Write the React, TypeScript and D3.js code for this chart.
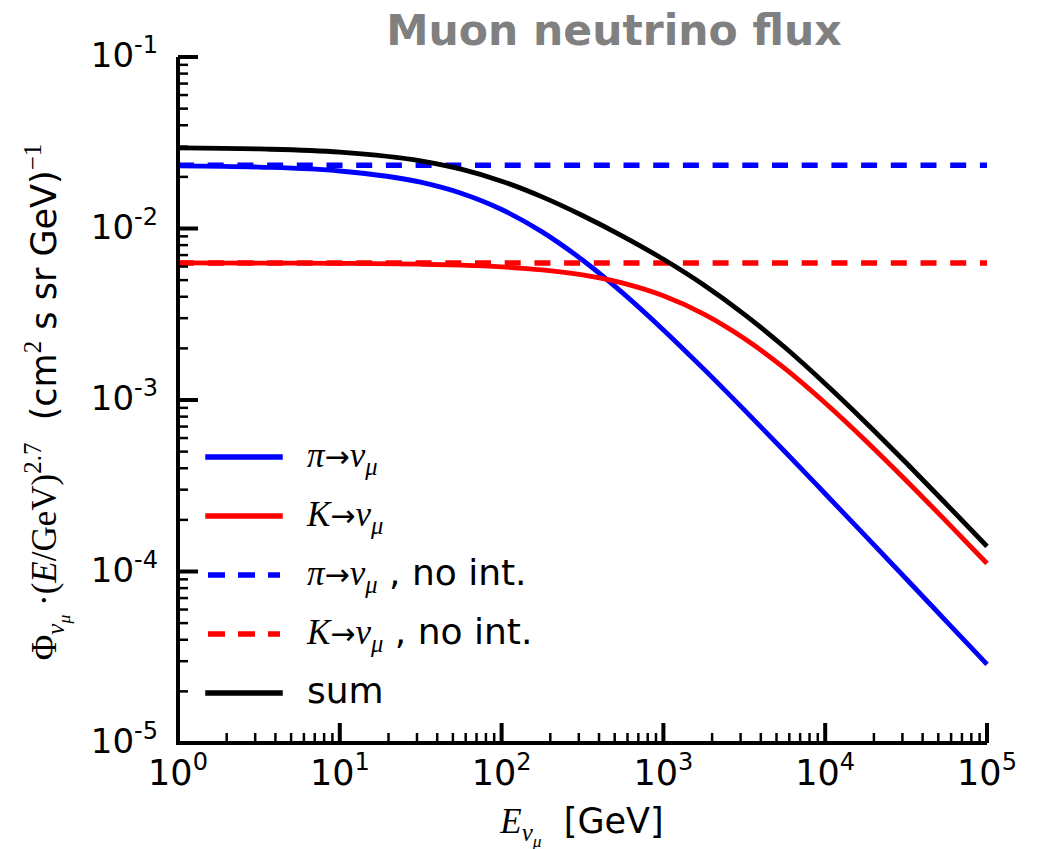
import React from 'react';
import * as d3 from 'd3';

// Neutrino energies (GeV) at which the fluxes are tabulated
const energyGeV = [1, 3.16, 10, 31.6, 56.2, 100, 178, 316, 562, 1000, 1778, 3162, 5623, 10000, 17783, 31623, 56234, 100000];
// E^2.7-weighted muon-neutrino flux, (cm^2 s sr GeV)^-1
const fluxPion = [0.02321, 0.02281, 0.02164, 0.01862, 0.01606, 0.01291, 0.00956, 0.00655, 0.0042, 0.002563, 0.001514, 0.000876, 0.000501, 0.000284, 0.0001607, 0.0000907, 0.00005107, 0.00002875];
const fluxKaon = [0.006297, 0.006289, 0.006265, 0.006191, 0.006109, 0.005968, 0.005733, 0.005359, 0.004801, 0.00405, 0.00317, 0.002285, 0.001528, 0.00096, 0.000579, 0.0003396, 0.0001954, 0.0001114];
const fluxSum = [0.02951, 0.0291, 0.02791, 0.02481, 0.02217, 0.01888, 0.01529, 0.01191, 0.009, 0.006613, 0.004684, 0.003161, 0.002029, 0.001244, 0.00074, 0.0004303, 0.0002465, 0.0001402];
// Without hadronic interactions the weighted flux stays flat
const energyRange = [1, 100000];
const fluxPionNoInt = [0.0234, 0.0234];
const fluxKaonNoInt = [0.0063, 0.0063];

const xTickExponents = [0, 1, 2, 3, 4, 5];
const yTickExponents = [-5, -4, -3, -2, -1];

const SANS = '"DejaVu Sans", sans-serif';
const SERIF = '"Liberation Serif", "DejaVu Serif", serif';
const ARROW = '"DejaVu Sans", sans-serif';

type Seg = { t: string; size: number; shift?: number; font?: string; italic?: boolean };

function Rich({ x, y, anchor, segs, transform, fill = '#000' }: { x: number; y: number; anchor?: string; segs: Seg[]; transform?: string; fill?: string }) {
  let cur = 0;
  return (
    <text x={x} y={y} textAnchor={anchor} transform={transform} fill={fill} style={{ whiteSpace: 'pre' }}>
      {segs.map((s, i) => {
        const sh = s.shift ?? 0;
        const dy = cur - sh;
        cur = sh;
        return (
          <tspan key={i} dy={dy} fontSize={s.size} fontFamily={s.font ?? SANS} fontStyle={s.italic ? 'italic' : 'normal'}>
            {s.t}
          </tspan>
        );
      })}
    </text>
  );
}

const MATH = 35;
const nuMu = (size: number, shift = 0): Seg[] => [
  { t: 'ν', size, font: SERIF, italic: true, shift },
  { t: 'μ', size: size * 0.7, font: SERIF, italic: true, shift: shift - size * 0.22 },
];
const decay = (parent: string): Seg[] => [
  { t: parent, size: MATH, font: SERIF, italic: true },
  { t: '→', size: 30, font: ARROW },
  ...nuMu(MATH),
];

export default function App() {
  const x = d3.scaleLog().domain([1, 1e5]).range([178, 987]);
  const y = d3.scaleLog().domain([1e-5, 1e-1]).range([743, 57]);
  const line = d3
    .line<[number, number]>()
    .x((d) => x(d[0]))
    .y((d) => y(d[1]))
    .curve(d3.curveMonotoneX);

  const series = (v: number[], e = energyGeV) => line(e.map((E, i) => [E, v[i]] as [number, number])) ?? '';

  const curves = [
    { d: series(fluxPion), color: '#0000ff', dash: null },
    { d: series(fluxKaon), color: '#ff0000', dash: null },
    { d: series(fluxPionNoInt, energyRange), color: '#0000ff', dash: '16,13.7' },
    { d: series(fluxKaonNoInt, energyRange), color: '#ff0000', dash: '16,13.7' },
    { d: series(fluxSum), color: '#000000', dash: null },
  ];

  const xMinor: number[] = [];
  xTickExponents.slice(0, -1).forEach((k) => d3.range(2, 10).forEach((j) => xMinor.push(j * 10 ** k)));
  const yMinor: number[] = [];
  yTickExponents.slice(0, -1).forEach((k) => d3.range(2, 10).forEach((j) => yMinor.push(j * 10 ** k)));

  const x0 = x.range()[0];
  const y0 = y.range()[0];

  const legend: { color: string; dash: string | null; segs: Seg[] }[] = [
    { color: '#0000ff', dash: null, segs: decay('π') },
    { color: '#ff0000', dash: null, segs: decay('K') },
    { color: '#0000ff', dash: '17,13', segs: [...decay('π'), { t: ' , no int.', size: 36 }] },
    { color: '#ff0000', dash: '17,13', segs: [...decay('K'), { t: ' , no int.', size: 36 }] },
    { color: '#000000', dash: null, segs: [{ t: 'sum', size: 36 }] },
  ];

  return (
    <svg width={1041} height={849} style={{ position: 'absolute', left: 0, top: 0, background: '#fff' }}>
      <rect width={1041} height={849} fill="#fff" />
      {/* Title */}
      <text x={614} y={45} textAnchor="middle" fontFamily={SANS} fontWeight="bold" fontSize={42.5} fill="#808080">
        Muon neutrino flux
      </text>

      {/* Curves */}
      {curves.map((c, i) => (
        <path key={i} d={c.d} fill="none" stroke={c.color} strokeWidth={c.dash ? 5.5 : 4.8} strokeDasharray={c.dash ?? undefined} />
      ))}

      {/* Spines */}
      <line x1={x0} x2={x0} y1={y.range()[1]} y2={y0} stroke="#000" strokeWidth={4} />
      <line x1={x0 - 2} x2={x.range()[1]} y1={y0} y2={y0} stroke="#000" strokeWidth={4} />

      {/* X ticks (inward) */}
      {xTickExponents.map((k) => (
        <line key={'xM' + k} x1={x(10 ** k)} x2={x(10 ** k)} y1={y0} y2={y0 - 20} stroke="#000" strokeWidth={4} />
      ))}
      {xMinor.map((v, i) => (
        <line key={'xm' + i} x1={x(v)} x2={x(v)} y1={y0} y2={y0 - 10} stroke="#000" strokeWidth={2.5} />
      ))}
      {xTickExponents.map((k) => (
        <Rich
          key={'xl' + k}
          x={x(10 ** k)}
          y={785}
          anchor="middle"
          segs={[
            { t: '10', size: 35 },
            { t: String(k), size: 24, shift: 15 },
          ]}
        />
      ))}

      {/* Y ticks (inward) */}
      {yTickExponents.map((k) => (
        <line key={'yM' + k} x1={x0} x2={x0 + 20} y1={y(10 ** k)} y2={y(10 ** k)} stroke="#000" strokeWidth={4} />
      ))}
      {yMinor.map((v, i) => (
        <line key={'ym' + i} x1={x0} x2={x0 + 10} y1={y(v)} y2={y(v)} stroke="#000" strokeWidth={2.5} />
      ))}
      {yTickExponents.map((k) => (
        <Rich
          key={'yl' + k}
          x={158}
          y={y(10 ** k) + 10}
          anchor="end"
          segs={[
            { t: '10', size: 34 },
            { t: String(k), size: 24, shift: 14 },
          ]}
        />
      ))}

      {/* Axis labels */}
      <Rich
        x={582}
        y={833}
        anchor="middle"
        segs={[{ t: 'E', size: MATH, font: SERIF, italic: true }, ...nuMu(25, -8), { t: '  [GeV]', size: 35, shift: 0 }]}
      />
      <Rich
        x={0}
        y={0}
        anchor="middle"
        transform="translate(56,402) rotate(-90)"
        segs={[
          { t: 'Φ', size: MATH, font: SERIF },
          ...nuMu(25, -8),
          { t: ' ·(', size: MATH, font: SERIF, shift: 0 },
          { t: 'E', size: MATH, font: SERIF, italic: true },
          { t: '/GeV)', size: MATH, font: SERIF },
          { t: '2.7', size: 25, font: SERIF, shift: 15 },
          { t: '  (cm', size: 35, shift: 0 },
          { t: '2', size: 25, font: SERIF, shift: 15 },
          { t: ' s sr GeV)', size: 35, shift: 0 },
          { t: '−1', size: 25, font: SERIF, shift: 15 },
        ]}
      />

      {/* Legend */}
      {legend.map((e, i) => {
        const ly = 457 + i * 59;
        return (
          <g key={'lg' + i}>
            <line
              x1={208}
              x2={280}
              y1={ly}
              y2={ly}
              stroke={e.color}
              strokeWidth={5.5}
              strokeDasharray={e.dash ?? undefined}
              strokeLinecap={e.dash ? 'butt' : 'square'}
            />
            <Rich x={307} y={ly + 10} segs={e.segs} />
          </g>
        );
      })}
    </svg>
  );
}
